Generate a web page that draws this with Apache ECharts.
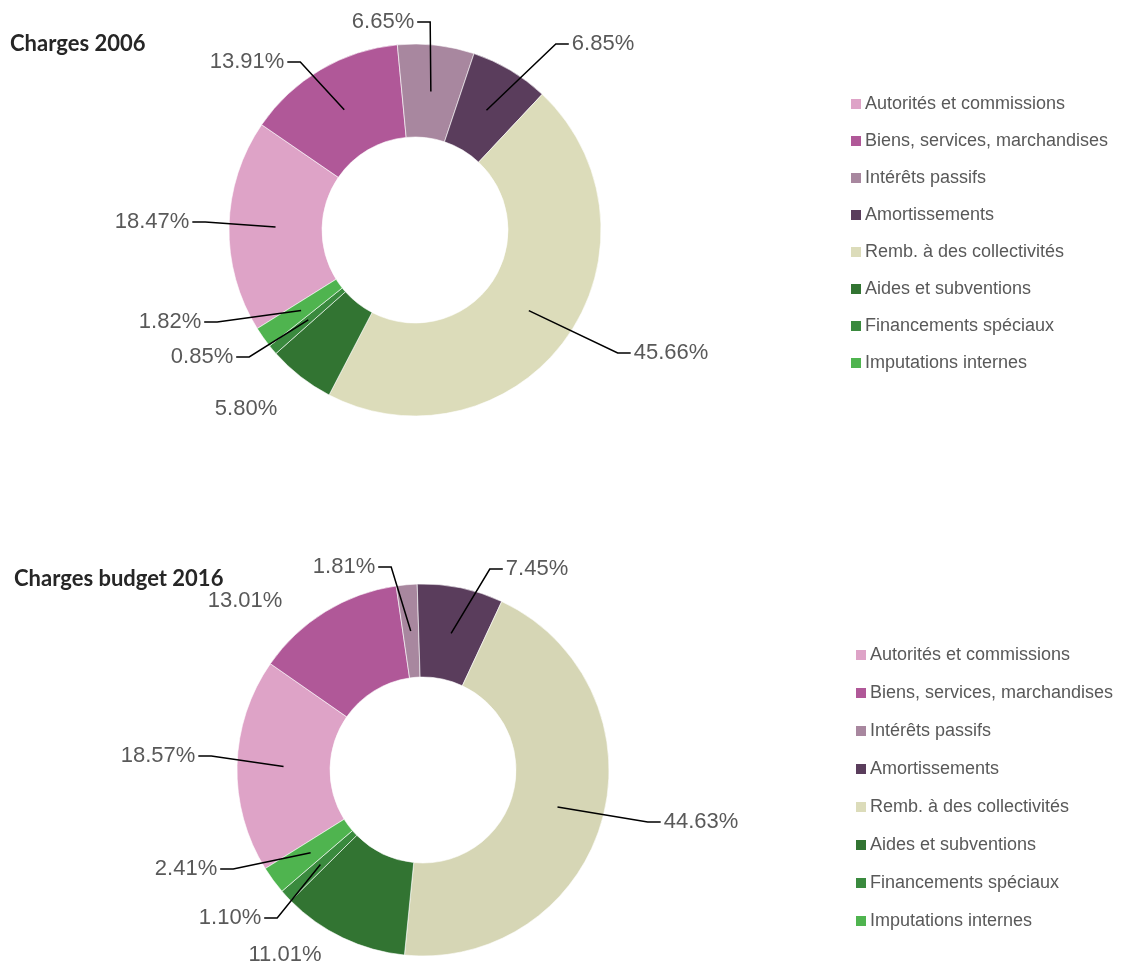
<!DOCTYPE html>
<html>
<head>
<meta charset="utf-8">
<script src="https://cdn.jsdelivr.net/npm/echarts@6/dist/echarts.min.js"></script>
<style>
  html, body { margin: 0; padding: 0; background: #fff; }
  #chart { width: 1129px; height: 964px; }
</style>
</head>
<body>
<div id="chart"></div>
<script>
const categories = [
  'Autorités et commissions',
  'Biens, services, marchandises',
  'Intérêts passifs',
  'Amortissements',
  'Remb. à des collectivités',
  'Aides et subventions',
  'Financements spéciaux',
  'Imputations internes',
];
const values2006 = [18.47, 13.91, 6.65, 6.85, 45.66, 5.80, 0.85, 1.82];
const values2016 = [18.57, 13.01, 1.81, 7.45, 44.63, 11.01, 1.10, 2.41];

const palette2006 = ['#dea3c7', '#b05898', '#a8879f', '#5a3d5c', '#dcdcba', '#327432', '#3a8a3e', '#4fb44f'];
const palette2016 = ['#dea3c7', '#b05898', '#a8879f', '#5a3d5c', '#d6d6b5', '#327432', '#3a8a3e', '#4fb44f'];

// label placement (offset of label centre from donut centre, leader line or not)
const spots2006 = [[-263, -8, 1], [-168, -168, 1], [-32, -208, 1], [188, -186, 1], [256, 123, 1], [-169, 179, 0], [-213, 127, 1], [-245, 92, 1]];
const spots2016 = [[-265, -14, 1], [-178, -169, 0], [-79, -203, 1], [114, -201, 1], [278, 52, 1], [-138, 185, 0], [-193, 148, 1], [-237, 99, 1]];

const START = 212;
const R_IN = 93;
const R_OUT = 186;

function layoutFor(values, center, spots) {
  const total = values.reduce((a, b) => a + b, 0);
  let acc = 0;
  const mids = values.map((v) => {
    const m = acc + v / 2;
    acc += v;
    return m / total;
  });

  return (params) => {
    const i = params.dataIndex;
    const [dx, dy, line] = spots[i];
    const x = center[0] + dx;
    const y = center[1] + dy;
    const out = { x, y, align: 'center', verticalAlign: 'middle' };
    if (!line) return out;

    // leader line starts in the middle of the ring, at the slice's mid angle
    const a = (START - mids[i] * 360) * Math.PI / 180;
    const r = (R_IN + R_OUT) / 2;
    const px = center[0] + r * Math.cos(a);
    const py = center[1] - r * Math.sin(a);
    const side = px > x ? 1 : -1;
    const ex = x + side * (params.labelRect.width / 2 + 3);
    out.labelLinePoints = [[px, py], [ex + side * 13, y], [ex, y]];
    return out;
  };
}

const base = {
  type: 'pie',
  radius: [R_IN, R_OUT],
  startAngle: START,
  clockwise: true,
  avoidLabelOverlap: false,
  emphasis: { disabled: true },
};

function donut(values, colors, center) {
  return {
    ...base,
    center,
    z: 2,
    itemStyle: { borderColor: '#fff', borderWidth: 0.6 },
    label: { show: false },
    labelLine: { show: false },
    data: values.map((value, i) => ({ name: categories[i], value, itemStyle: { color: colors[i] } })),
  };
}

// transparent copy on top that carries the labels, so leader lines stay visible over the ring
function labels(values, center, spots) {
  return {
    ...base,
    center,
    z: 3,
    silent: true,
    itemStyle: { color: 'rgba(0,0,0,0)', borderWidth: 0 },
    label: {
      show: true,
      position: 'outside',
      formatter: (p) => p.value.toFixed(2) + '%',
      color: '#595959',
      fontFamily: 'Liberation Sans, Arial, sans-serif',
      fontSize: 22,
    },
    labelLine: { show: true, showAbove: true, lineStyle: { color: '#000', width: 1.5 } },
    labelLayout: layoutFor(values, center, spots),
    data: values.map((value, i) => ({
      name: categories[i],
      value,
      labelLine: { show: !!spots[i][2] },
    })),
  };
}

function legendAt(left, top, gap) {
  return {
    orient: 'vertical',
    left,
    top,
    padding: 0,
    icon: 'rect',
    itemWidth: 10,
    itemHeight: 10,
    itemGap: gap,
    selectedMode: false,
    itemStyle: { borderWidth: 0 },
    data: categories,
    textStyle: {
      color: '#595959',
      fontFamily: 'Liberation Sans, Arial, sans-serif',
      fontSize: 18,
      lineHeight: 18,
      padding: [0, 0, 0, -1],
    },
  };
}

const chart = echarts.init(document.getElementById('chart'), null, { renderer: 'canvas' });

const titleStyle = { color: '#262626', fontFamily: 'Lato, sans-serif', fontWeight: 'bold', fontSize: 22 };

chart.setOption({
  backgroundColor: '#fff',
  animation: false,
  title: [
    { text: 'Charges 2006', left: 10, top: 33, padding: 0, textStyle: titleStyle },
    { text: 'Charges budget 2016', left: 14, top: 568, padding: 0, textStyle: titleStyle },
  ],
  legend: [legendAt(851, 95, 19), legendAt(856, 646, 20)],
  series: [
    donut(values2006, palette2006, [415, 230]),
    donut(values2016, palette2016, [423, 770]),
    labels(values2006, [415, 230], spots2006),
    labels(values2016, [423, 770], spots2016),
  ],
});
</script>
</body>
</html>
